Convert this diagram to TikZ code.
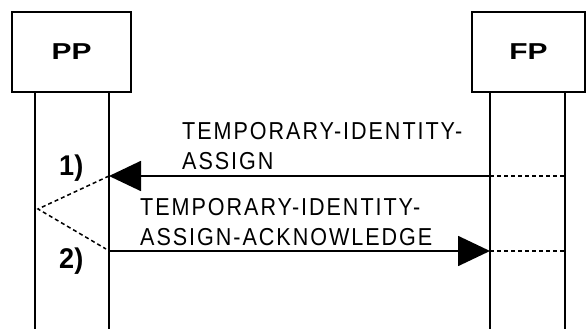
\documentclass[tikz,border=0pt]{standalone}
\usepackage{fontspec}
\setmainfont{Liberation Sans}
\newfontfamily\msgfont[FakeStretch=0.88,LetterSpace=8]{Liberation Sans}
\newfontfamily\hdrfont[FakeStretch=1.3,BoldFeatures={FakeStretch=1.3}]{Liberation Sans}
\newfontfamily\numfont[FakeStretch=0.95,BoldFeatures={FakeStretch=0.95}]{Liberation Sans}
\usetikzlibrary{arrows.meta}
\begin{document}
\begin{tikzpicture}[x=1pt,y=-1pt,
  box/.style={draw, line width=2.2pt, minimum width=119pt, minimum height=80pt, inner sep=0pt,
              font=\hdrfont\bfseries\fontsize{23}{26}\selectfont},
  life/.style={line width=1.8pt},
  msg/.style={line width=1.8pt, -{Triangle[length=32pt,width=30pt]}},
  ext/.style={line width=1.5pt, dash pattern=on 4pt off 3pt},
  lbl/.style={font=\msgfont\fontsize{24.5}{30}\selectfont, align=left, anchor=north west, inner sep=0pt},
  num/.style={font=\numfont\bfseries\fontsize{28.5}{30}\selectfont, anchor=base west, inner sep=0pt}]
\useasboundingbox (0,0) rectangle (586,329);
\fill[white] (0,0) rectangle (586,329);
% entity boxes
\node[box] (pp) at (71.5,52) {PP};
\node[box, minimum width=113pt] (fp) at (528.5,52) {FP};
% lifelines
\coordinate (ppa) at (35,329);
\coordinate (ppb) at (109,329);
\coordinate (fpa) at (490,329);
\coordinate (fpb) at (565,329);
\draw[life] (pp.south -| ppa) -- (ppa);
\draw[life] (pp.south -| ppb) -- (ppb);
\draw[life] (fp.south -| fpa) -- (fpa);
\draw[life] (fp.south -| fpb) -- (fpb);
% message points
\coordinate (m1s) at (490,176);
\coordinate (m1e) at (109,176);
\coordinate (m1x) at (565,176);
\coordinate (m2s) at (108,251);
\coordinate (m2e) at (490,251);
\coordinate (m2x) at (565,251);
\coordinate (vap) at (38,209);
\coordinate (vend) at (106,249);
% messages
\draw[msg] (m1s) -- (m1e);
\draw[ext] (m1s) -- (m1x);
\draw[msg] (m2s) -- (m2e);
\draw[ext] (m2e) -- (m2x);
\draw[ext] (m1e) -- (vap) -- (vend);
% labels
\node[lbl] (t1) at (182,121.7) {TEMPORARY-IDENTITY-\\ASSIGN};
\node[lbl] (t2) at (140,198) {TEMPORARY-IDENTITY-\\ASSIGN-ACKNOWLEDGE};
\node[num] (n1) at (59,175) {1)};
\node[num] (n2) at (59,268) {2)};
\end{tikzpicture}
\end{document}
